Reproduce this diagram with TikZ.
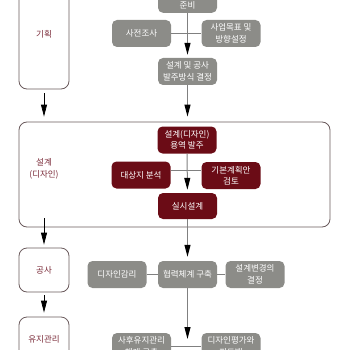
\documentclass[tikz,border=0pt]{standalone}
\usepackage{fontspec}
\setmainfont{Noto Sans CJK KR}
\usetikzlibrary{arrows.meta}
\definecolor{gboxc}{HTML}{8C8C88}
\definecolor{rboxc}{HTML}{6B0C16}
\definecolor{lblc}{HTML}{7A2A38}
\definecolor{lnc}{HTML}{808080}
\definecolor{phc}{HTML}{6A5A5C}
\begin{document}
\begin{tikzpicture}[x=1pt,y=-1pt,font=\fontsize{8.5}{11.5}\selectfont,
  gstep/.style={fill=gboxc,text=white,rounded corners=5pt,minimum width=59pt,minimum height=27pt,align=center,inner sep=1pt},
  rstep/.style={gstep,fill=rboxc},
  phase/.style={draw=phc,line width=0.8pt,rounded corners=8pt,minimum width=50pt,text=lblc,align=center},
  conn/.style={draw=lnc,line width=1pt},
  arr/.style={conn,-{Triangle[length=12pt,width=6pt,color=black]}},
  parr/.style={draw=black,line width=0.8pt,-{Triangle[length=12pt,width=6pt]}}]
\useasboundingbox (0,0) rectangle (338,350);
% phases
\node[phase,minimum height=110pt] (gihoek) at (44,34) {기획};
\node[phase,minimum width=311pt,minimum height=105pt] (seolgye) at (174.5,174.5) {};
\node[text=lblc,align=center] (seolgyelbl) at (44,169) {설계\\(디자인)};
\node[phase,minimum height=44pt] (gongsa) at (44,270) {공사};
\node[phase,minimum height=44pt] (yuji) at (44,339) {유지관리};
% steps
\node[gstep,anchor=south,minimum height=0pt,text height=22pt,text depth=2pt,inner ysep=2.5pt] (junbi) at (187.5,13) {준비};
\node[gstep] (sajeon) at (141.5,33.5) {사전조사};
\node[gstep] (saeop) at (231,33.5) {사업목표 및\\방향설정};
\node[gstep] (bal) at (187.5,71.5) {설계 및 공사\\발주방식 결정};
\node[rstep] (yong) at (187,140) {설계(디자인)\\용역 발주};
\node[rstep] (daesang) at (141,175) {대상지 분석};
\node[rstep] (gibon) at (231,175.5) {기본계획안\\검토};
\node[rstep,minimum height=26pt] (silsi) at (187.5,206) {실시설계};
\node[gstep] (gamri) at (117,274.5) {디자인감리};
\node[gstep] (hyeop) at (187.5,274.5) {협력체계 구축};
\node[gstep] (byeon) at (255,274.5) {설계변경의\\결정};
\node[gstep] (sahu) at (141.5,346.5) {사후유지관리\\체계 구축};
\node[gstep] (pyeong) at (231,346.5) {디자인평가와\\피드백};
\coordinate (hend) at (187.5,339);
% connectors
\draw[arr,shorten >=3pt] (junbi) -- (bal);
\draw[conn] (sajeon) -- (saeop);
\draw[arr] (bal) -- ([yshift=5pt]bal.south |- seolgye.north);
\draw[arr,shorten >=3pt] (yong) -- (silsi);
\draw[conn] ([yshift=5pt]daesang.east) -- ([yshift=5pt]daesang.east -| gibon.west);
\draw[arr,shorten >=4pt] (silsi) -- (hyeop);
\draw[conn] (gamri) -- (hyeop);
\draw[conn] (hyeop) -- (byeon);
\draw[arr] (hyeop) -- (hend);
\draw[conn] (sahu) -- (pyeong);
% phase arrows
\draw[parr,shorten <=4pt,shorten >=5pt] (gihoek) -- (gihoek.south |- seolgye.north);
\draw[parr,shorten >=3pt] ([yshift=9pt]gongsa.north |- seolgye.south) -- (gongsa);
\draw[parr,shorten <=3pt,shorten >=4pt] (gongsa) -- (yuji);
\end{tikzpicture}
\end{document}
